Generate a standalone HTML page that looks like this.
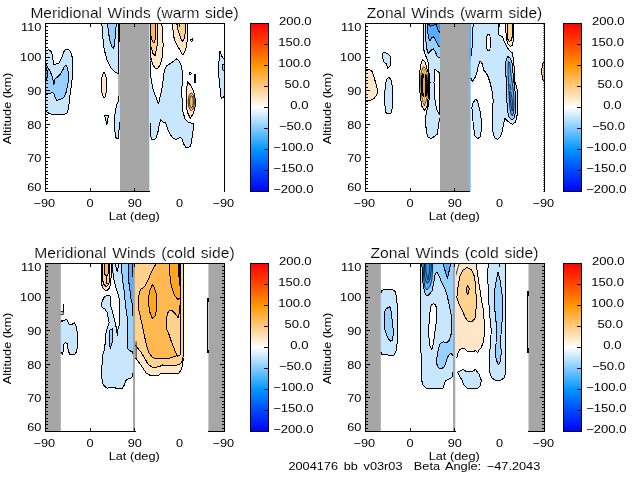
<!DOCTYPE html>
<html lang="en">
<head>
<meta charset="utf-8">
<title>Meridional and Zonal Winds</title>
<style>
html,body{margin:0;padding:0;background:#fff;}
body{width:640px;height:480px;overflow:hidden;position:relative;font-family:"Liberation Sans",sans-serif;}
svg{position:absolute;left:0;top:0;display:block;}
text{font-family:"Liberation Sans",sans-serif;fill:#000;}
.t{font-size:14.1px;stroke:#fff;stroke-width:0.15px;word-spacing:1.2px;}
.a{font-size:10.9px;}
</style>
</head>
<body>
<svg width="640" height="480" viewBox="0 0 640 480">
<defs>
<linearGradient id="cb" x1="0" y1="0" x2="0" y2="1">
<stop offset="0" stop-color="#ff0000"/>
<stop offset="0.125" stop-color="#ff4600"/>
<stop offset="0.25" stop-color="#ff9600"/>
<stop offset="0.375" stop-color="#ffcb80"/>
<stop offset="0.5" stop-color="#ffffff"/>
<stop offset="0.625" stop-color="#80cbff"/>
<stop offset="0.75" stop-color="#0096ff"/>
<stop offset="0.875" stop-color="#0046ff"/>
<stop offset="1" stop-color="#0000ff"/>
</linearGradient>
</defs>
<rect x="0" y="0" width="640" height="480" fill="#fff"/>
<clipPath id="c1"><rect x="46" y="24" width="178" height="167"/></clipPath>
<g clip-path="url(#c1)" stroke-linejoin="round" shape-rendering="crispEdges">
<path d="M44.00 51.25 L46.00 51.25 L48.10 49.75 L50.60 50.40 L51.90 53.75 L53.10 60.00 L54.00 64.40 L56.25 64.00 L58.75 63.50 L61.25 58.75 L63.10 53.75 L64.40 50.60 L66.25 49.40 L69.40 50.00 L71.25 53.10 L72.25 57.50 L72.75 62.50 L72.75 70.00 L72.25 77.50 L71.25 86.25 L70.00 95.00 L69.00 103.75 L68.10 110.00 L66.90 113.10 L63.75 114.75 L55.00 114.75 L49.40 113.75 L46.90 111.90 L46.00 110.00 L44.00 110.00Z" fill="#c8e7ff" stroke="#000" stroke-width="1"/>
<path d="M44.00 64.40 L46.00 64.40 L47.50 66.90 L49.40 70.00 L51.10 73.75 L52.40 77.50 L53.50 82.50 L54.00 84.40 L54.75 79.40 L57.50 76.90 L60.60 73.75 L62.80 70.00 L64.40 66.25 L65.90 65.00 L67.10 67.50 L68.10 71.25 L68.80 76.00 L68.60 80.00 L67.75 84.00 L66.90 88.50 L66.00 92.50 L64.40 96.90 L61.90 98.75 L58.75 99.75 L56.90 100.60 L55.25 98.10 L54.40 94.40 L52.50 92.50 L48.75 93.50 L46.00 93.75 L44.00 93.75Z" fill="#97d1ff" stroke="#000" stroke-width="1"/>
<path d="M44.00 68.50 L46.00 68.50 L47.40 71.00 L47.60 75.00 L47.10 78.00 L46.00 79.50 L44.00 79.50Z" fill="#55adff" stroke="#000" stroke-width="1"/>
<path d="M103.75 72.25 L105.60 75.00 L106.60 80.00 L106.90 86.00 L106.40 92.00 L105.20 96.50 L104.30 98.00 L102.80 96.00 L101.60 91.00 L101.25 85.00 L101.60 79.00 L102.50 75.00Z" fill="#ffe6c8" stroke="#000" stroke-width="1"/>
<path d="M104.40 115.00 L108.50 115.00 L107.80 119.00 L106.90 125.00 L105.50 119.00Z" fill="#c8e7ff" stroke="#000" stroke-width="1"/>
<path d="M101.90 20.00 L101.90 24.00 L102.50 32.50 L103.50 45.00 L105.00 52.50 L107.50 61.25 L110.60 67.50 L115.00 71.90 L118.10 73.75 L118.90 74.00 L118.90 20.00Z" fill="#c8e7ff" stroke="#000" stroke-width="1"/>
<path d="M107.50 20.00 L107.50 24.00 L108.50 32.50 L110.00 41.25 L111.90 46.90 L113.50 48.50 L114.40 45.00 L115.00 38.75 L115.60 32.50 L116.25 24.00 L116.25 20.00Z" fill="#97d1ff" stroke="#000" stroke-width="1"/>
<path d="M118.90 20.00 L118.90 92.50 L118.30 101.00 L116.40 106.00 L115.10 112.50 L114.70 121.00 L114.80 130.00 L115.60 137.00 L117.00 138.60 L118.30 138.40 L119.00 130.00 L119.60 122.50 L122.00 122.50 L122.00 20.00Z" fill="#c8e7ff"/>
<path d="M118.90 96.00 L118.30 101.00 L116.40 106.00 L115.10 112.50 L114.70 121.00 L114.80 130.00 L115.60 137.00 L117.00 138.60 L118.30 138.40 L119.00 130.00 L119.60 122.50" fill="none" stroke="#000" stroke-width="1"/>
<path d="M118.90 74.00 L118.90 96.00" fill="none" stroke="#000" stroke-width="0.5"/>
<path d="M118.90 24.00 L118.90 42.00" fill="none" stroke="#000" stroke-width="1.9"/>
<path d="M118.90 42.00 L118.90 74.00" fill="none" stroke="#000" stroke-width="1.1"/>
<path d="M119.50 25.00 L120.20 25.00 L120.20 35.00 L119.50 35.00Z" fill="#ffe6c8"/>
<path d="M147.00 61.00 L150.40 61.00 L150.60 70.00 L150.90 77.50 L152.50 87.50 L155.60 96.25 L158.50 103.75 L160.00 97.50 L161.90 88.75 L163.10 80.00 L163.75 73.75 L165.00 68.75 L166.90 65.60 L168.75 64.40 L173.75 61.25 L176.25 58.75 L178.75 60.60 L180.60 63.75 L181.90 68.75 L182.50 73.75 L182.50 80.00 L182.00 86.25 L181.90 95.00 L182.25 103.75 L183.10 112.50 L185.00 118.75 L187.50 121.90 L191.25 123.10 L193.50 124.00 L193.10 130.00 L192.25 136.25 L191.25 142.50 L190.60 146.90 L185.60 147.25 L183.50 143.75 L182.25 139.40 L180.60 137.25 L176.25 139.40 L173.10 138.10 L170.60 135.00 L168.10 130.00 L165.60 123.10 L163.10 121.90 L160.60 120.00 L159.40 123.75 L158.10 131.25 L156.25 137.50 L154.40 139.40 L151.50 139.40 L150.60 135.00 L150.40 123.75 L147.00 123.75Z" fill="#c8e7ff" stroke="#000" stroke-width="1"/>
<path d="M150.40 20.00 L150.40 55.00 L151.00 58.00 L152.50 63.75 L155.00 68.10 L158.10 68.10 L160.60 63.75 L162.50 56.25 L163.10 45.00 L162.50 32.50 L161.90 24.00 L161.90 20.00Z" fill="#ffe6c8" stroke="#000" stroke-width="1"/>
<path d="M150.40 20.00 L150.40 44.00 L151.50 48.75 L153.10 53.75 L155.00 55.60 L156.90 47.50 L157.75 36.25 L157.50 24.00 L157.50 20.00Z" fill="#ffd28e" stroke="#000" stroke-width="1"/>
<path d="M150.40 20.00 L150.40 34.00 L151.25 37.50 L152.50 41.25 L154.00 43.10 L155.00 40.00 L155.60 32.50 L155.25 24.00 L155.25 20.00Z" fill="#ffb950" stroke="#000" stroke-width="1"/>
<path d="M172.50 20.00 L172.50 24.00 L173.10 31.25 L174.40 40.00 L178.10 46.90 L181.25 52.50 L182.75 55.00 L184.40 52.50 L186.25 47.50 L187.25 40.00 L187.50 31.25 L187.10 24.00 L187.10 20.00Z" fill="#ffe6c8" stroke="#000" stroke-width="1"/>
<path d="M176.90 20.00 L176.90 24.00 L178.10 30.00 L180.00 36.25 L182.25 41.90 L184.00 38.75 L185.25 32.50 L185.60 24.00 L185.60 20.00Z" fill="#ffd28e" stroke="#000" stroke-width="1"/>
<path d="M187.25 81.50 L189.50 84.00 L191.25 86.25 L193.75 91.25 L195.25 98.75 L195.00 107.50 L193.10 113.75 L190.25 118.10 L187.50 112.50 L186.25 105.00 L186.25 96.25 L186.90 88.75Z" fill="#ffe6c8" stroke="#000" stroke-width="1"/>
<ellipse cx="191.3" cy="101.8" rx="3.1" ry="8.7" fill="#ffd28e" stroke="#000" stroke-width="0.8"/>
<ellipse cx="191.4" cy="101.8" rx="1.9" ry="6.2" fill="#ffb950" stroke="#000" stroke-width="0.8"/>
<path d="M227.00 60.00 L223.75 58.75 L221.90 56.25 L220.00 51.25 L219.40 57.50 L218.75 63.75 L218.10 70.00 L218.50 76.25 L219.40 80.00 L219.75 85.00 L220.60 93.75 L221.25 98.10 L223.75 96.90 L227.00 96.00Z" fill="#c8e7ff" stroke="#000" stroke-width="1"/>
<path d="M227.00 64.40 L223.00 64.40 L222.50 67.00 L223.00 70.00 L227.00 70.00Z" fill="#97d1ff" stroke="#000" stroke-width="1"/>
<ellipse cx="191.3" cy="40.2" rx="1.2" ry="1.0" fill="none" stroke="#000" stroke-width="1"/>
<path d="M192.60 37.80 L192.60 41.20" fill="none" stroke="#000" stroke-width="0.9"/>
<ellipse cx="190.3" cy="73.5" rx="0.8" ry="0.8" fill="none" stroke="#000" stroke-width="1"/>
<path d="M195.00 73.50 L195.00 82.50" fill="none" stroke="#000" stroke-width="2"/>
<rect x="120" y="20" width="29" height="175" fill="#a6a6a6" shape-rendering="geometricPrecision"/>
<rect x="149" y="20" width="1.0" height="175" fill="#c8e7ff" shape-rendering="geometricPrecision"/>
<path d="M150.50 24.00 L150.50 60.00" fill="none" stroke="#000" stroke-width="0.9"/>
</g>
<g shape-rendering="crispEdges" stroke="#000" stroke-width="1" fill="none">
<path d="M45 23.5 H225 M45.5 23 V192 M224.5 23 V192 M45 191.5 H149.5 M45.5 23.5 h4.5 M45.5 26.5 h2.5 M45.5 30.5 h2.5 M45.5 33.5 h2.5 M45.5 36.5 h2.5 M45.5 40.5 h2.5 M45.5 43.5 h2.5 M45.5 47.5 h2.5 M45.5 50.5 h2.5 M45.5 53.5 h2.5 M45.5 57.5 h4.5 M45.5 60.5 h2.5 M45.5 63.5 h2.5 M45.5 67.5 h2.5 M45.5 70.5 h2.5 M45.5 73.5 h2.5 M45.5 77.5 h2.5 M45.5 80.5 h2.5 M45.5 83.5 h2.5 M45.5 87.5 h2.5 M45.5 90.5 h4.5 M45.5 94.5 h2.5 M45.5 97.5 h2.5 M45.5 100.5 h2.5 M45.5 104.5 h2.5 M45.5 107.5 h2.5 M45.5 110.5 h2.5 M45.5 114.5 h2.5 M45.5 117.5 h2.5 M45.5 120.5 h2.5 M45.5 124.5 h4.5 M45.5 127.5 h2.5 M45.5 131.5 h2.5 M45.5 134.5 h2.5 M45.5 137.5 h2.5 M45.5 141.5 h2.5 M45.5 144.5 h2.5 M45.5 147.5 h2.5 M45.5 151.5 h2.5 M45.5 154.5 h2.5 M45.5 157.5 h4.5 M45.5 161.5 h2.5 M45.5 164.5 h2.5 M45.5 167.5 h2.5 M45.5 171.5 h2.5 M45.5 174.5 h2.5 M45.5 178.5 h2.5 M45.5 181.5 h2.5 M45.5 184.5 h2.5 M45.5 188.5 h2.5 M45.5 191.5 h4.5 M90.5 23.5 v3.5 M90.5 191.5 v-3.5 M134.5 23.5 v3.5 M134.5 191.5 v-3.5 M179.5 23.5 v3.5"/>
</g>
<rect x="250" y="23" width="19" height="169" fill="url(#cb)"/>
<g shape-rendering="crispEdges" stroke="#000" stroke-width="1" fill="none">
<rect x="250.5" y="23.5" width="18" height="168"/>
<path d="M268.5 44.5 h-5 M268.5 65.5 h-5 M268.5 86.5 h-5 M268.5 107.5 h-5 M268.5 128.5 h-5 M268.5 149.5 h-5 M268.5 170.5 h-5"/>
</g>
<clipPath id="c2"><rect x="366" y="24" width="178" height="167"/></clipPath>
<g clip-path="url(#c2)" stroke-linejoin="round" shape-rendering="crispEdges">
<path d="M364.00 70.00 L366.00 70.00 L368.75 69.40 L371.90 71.25 L373.75 76.25 L375.60 82.50 L377.25 88.75 L377.40 92.00 L376.90 95.00 L373.75 98.75 L370.00 100.60 L366.00 101.25 L364.00 101.25Z" fill="#ffe6c8" stroke="#000" stroke-width="1"/>
<path d="M366.00 79.00 L367.20 82.00 L367.20 94.00 L366.00 97.00Z" fill="#ffd28e"/>
<path d="M383.10 52.50 L386.90 53.10 L390.00 55.60 L390.60 61.25 L390.00 66.25 L387.75 68.10 L386.25 63.75 L383.75 61.90 L382.50 57.50Z" fill="#c8e7ff" stroke="#000" stroke-width="1"/>
<path d="M388.75 77.25 L391.25 80.00 L392.25 86.25 L392.75 93.75 L392.90 100.00 L392.25 107.50 L391.25 113.10 L388.10 114.10 L385.60 112.50 L384.75 102.50 L384.60 93.75 L385.40 86.25 L386.25 80.00Z" fill="#c8e7ff" stroke="#000" stroke-width="1"/>
<path d="M422.50 59.40 L425.00 61.90 L426.25 66.25 L428.10 72.50 L428.75 82.50 L428.75 93.75 L428.10 98.75 L426.90 106.25 L424.40 110.60 L421.90 106.25 L420.60 98.75 L419.75 90.00 L419.40 82.50 L419.75 72.50 L420.60 65.00Z" fill="#ffe6c8" stroke="#000" stroke-width="1"/>
<path d="M423.70 66.50 L425.60 69.00 L427.20 74.00 L427.70 83.00 L427.50 94.00 L426.50 100.00 L424.40 106.00 L422.50 100.00 L421.30 94.00 L420.60 83.00 L421.00 74.00 L422.20 69.00Z" fill="#ffd28e" stroke="#000" stroke-width="0.7"/>
<path d="M423.90 71.50 L426.60 75.00 L427.90 82.00 L428.00 90.00 L427.30 94.50 L425.60 97.00 L424.00 97.50 L422.30 96.00 L421.00 92.00 L420.60 84.00 L420.90 77.00 L421.90 73.50Z" fill="#000000"/>
<path d="M423.90 68.00 L424.30 76.00 L423.80 85.00 L424.30 94.00 L424.20 103.00" fill="none" stroke="#ffa51e" stroke-width="1.4"/>
<path d="M423.10 20.00 L423.10 38.75 L423.50 48.75 L425.00 53.75 L426.90 58.75 L428.10 62.50 L428.75 70.00 L429.40 76.25 L430.00 82.50 L429.75 95.00 L428.10 106.25 L426.25 112.50 L425.60 120.00 L425.80 126.00 L426.90 133.75 L428.10 137.50 L431.25 138.50 L434.40 136.25 L437.25 134.40 L438.10 128.75 L439.00 122.50 L439.75 118.75 L443.00 118.00 L443.00 20.00Z" fill="#c8e7ff" stroke="#000" stroke-width="1"/>
<path d="M435.00 69.40 L437.50 71.25 L439.70 73.10 L439.70 114.50 L439.00 113.75 L437.50 111.25 L435.60 105.00 L434.40 95.00 L434.00 82.50 L434.40 75.00Z" fill="#ffffff" stroke="#000" stroke-width="1"/>
<path d="M425.60 20.00 L425.60 38.00 L426.50 47.50 L428.10 53.75 L430.60 50.60 L433.10 48.75 L435.00 51.25 L436.90 55.60 L438.75 57.50 L443.00 57.50 L443.00 20.00Z" fill="#97d1ff" stroke="#000" stroke-width="1"/>
<path d="M426.90 20.00 L427.75 32.50 L429.00 38.75 L430.00 40.60 L431.90 37.50 L433.75 36.90 L435.60 40.00 L437.50 44.40 L439.40 46.90 L443.00 46.90 L443.00 20.00Z" fill="#55adff" stroke="#000" stroke-width="1"/>
<path d="M428.75 20.00 L428.75 24.00 L430.00 26.25 L433.75 25.00 L435.60 24.00 L435.60 20.00Z" fill="#2b95ff" stroke="#000" stroke-width="1"/>
<path d="M436.25 20.00 L436.25 24.00 L437.50 28.75 L438.75 31.90 L443.00 32.50 L443.00 20.00Z" fill="#2b95ff" stroke="#000" stroke-width="1"/>
<path d="M468.00 20.00 L498.75 20.00 L498.75 24.00 L499.00 35.00 L502.50 36.90 L504.40 41.90 L506.90 46.90 L510.00 51.25 L512.50 53.10 L513.10 57.50 L513.75 62.50 L514.40 70.00 L515.00 82.50 L516.90 87.50 L517.50 95.00 L517.50 107.50 L516.90 117.50 L515.00 122.50 L512.50 124.40 L507.50 121.25 L505.00 118.10 L504.40 120.00 L503.50 125.00 L502.25 131.25 L500.60 136.25 L497.75 139.40 L495.00 138.10 L493.10 133.75 L492.50 125.00 L492.75 112.50 L493.10 100.00 L491.90 90.00 L490.00 82.50 L487.50 75.00 L483.75 70.00 L481.90 63.10 L480.00 61.25 L478.10 66.25 L476.90 72.50 L475.00 77.50 L473.10 80.50 L472.00 81.25 L471.00 78.00 L468.00 78.00Z" fill="#c8e7ff" stroke="#000" stroke-width="1"/>
<ellipse cx="488.4" cy="42.5" rx="2.2" ry="8.1" fill="#ffffff" stroke="#000" stroke-width="1"/>
<path d="M473.10 24.00 L472.50 45.00 L471.25 53.75 L470.60 60.00" fill="none" stroke="#000" stroke-width="1"/>
<path d="M505.60 20.00 L505.60 24.00 L506.00 32.50 L506.50 40.00 L508.10 44.40 L510.60 46.25 L512.50 45.00 L513.50 38.75 L513.75 24.00 L513.75 20.00Z" fill="#ffe6c8" stroke="#000" stroke-width="1"/>
<path d="M507.25 20.00 L507.50 38.75 L509.40 41.25 L511.50 40.00 L512.25 36.25 L512.25 20.00Z" fill="#ffd28e" stroke="#000" stroke-width="1"/>
<path d="M507.50 56.25 L510.00 58.10 L512.00 62.50 L512.80 70.00 L513.40 77.50 L514.40 86.25 L515.20 92.50 L515.60 101.25 L515.40 112.00 L514.40 117.50 L511.90 120.00 L508.40 116.25 L507.20 107.50 L506.70 95.00 L506.20 82.50 L505.80 70.00 L505.60 62.50Z" fill="#97d1ff" stroke="#000" stroke-width="1"/>
<path d="M508.30 61.50 L509.80 62.50 L510.40 70.00 L511.40 77.50 L512.80 86.25 L513.80 95.00 L514.10 105.00 L513.50 113.00 L512.30 116.00 L510.80 113.50 L509.80 107.50 L509.00 95.00 L508.50 82.50 L507.90 70.00Z" fill="#55adff" stroke="#000" stroke-width="0.8"/>
<path d="M509.60 91.00 L510.80 92.50 L512.00 98.00 L512.80 104.00 L512.90 110.00 L512.00 111.00 L511.00 105.00 L510.00 98.00Z" fill="#2b95ff" stroke="#000" stroke-width="0.7"/>
<path d="M509.60 84.00 L511.00 90.00" fill="none" stroke="#000" stroke-width="0.8"/>
<path d="M475.60 99.40 L477.50 100.60 L478.75 106.25 L480.60 113.75 L481.50 122.50 L481.25 131.25 L480.00 136.90 L477.50 138.75 L475.00 136.25 L473.75 128.75 L472.50 116.25 L471.90 107.50 L473.10 102.50Z" fill="#c8e7ff" stroke="#000" stroke-width="1"/>
<path d="M547.00 62.00 L543.40 62.00 L542.20 65.00 L541.80 72.00 L542.20 78.00 L543.40 80.50 L547.00 80.50Z" fill="#ffd28e" stroke="#000" stroke-width="1"/>
<rect x="440" y="20" width="29.6" height="175" fill="#a6a6a6" shape-rendering="geometricPrecision"/>
<rect x="469.4" y="20" width="1.2" height="175" fill="#55adff" shape-rendering="geometricPrecision"/>
<rect x="469.4" y="20" width="1.6" height="40" fill="#55adff" shape-rendering="geometricPrecision"/>
</g>
<g shape-rendering="crispEdges" stroke="#000" stroke-width="1" fill="none">
<path d="M365 23.5 H545 M365.5 23 V192 M544.5 23 V192 M365 191.5 H469.5 M365.5 23.5 h4.5 M365.5 26.5 h2.5 M365.5 30.5 h2.5 M365.5 33.5 h2.5 M365.5 36.5 h2.5 M365.5 40.5 h2.5 M365.5 43.5 h2.5 M365.5 47.5 h2.5 M365.5 50.5 h2.5 M365.5 53.5 h2.5 M365.5 57.5 h4.5 M365.5 60.5 h2.5 M365.5 63.5 h2.5 M365.5 67.5 h2.5 M365.5 70.5 h2.5 M365.5 73.5 h2.5 M365.5 77.5 h2.5 M365.5 80.5 h2.5 M365.5 83.5 h2.5 M365.5 87.5 h2.5 M365.5 90.5 h4.5 M365.5 94.5 h2.5 M365.5 97.5 h2.5 M365.5 100.5 h2.5 M365.5 104.5 h2.5 M365.5 107.5 h2.5 M365.5 110.5 h2.5 M365.5 114.5 h2.5 M365.5 117.5 h2.5 M365.5 120.5 h2.5 M365.5 124.5 h4.5 M365.5 127.5 h2.5 M365.5 131.5 h2.5 M365.5 134.5 h2.5 M365.5 137.5 h2.5 M365.5 141.5 h2.5 M365.5 144.5 h2.5 M365.5 147.5 h2.5 M365.5 151.5 h2.5 M365.5 154.5 h2.5 M365.5 157.5 h4.5 M365.5 161.5 h2.5 M365.5 164.5 h2.5 M365.5 167.5 h2.5 M365.5 171.5 h2.5 M365.5 174.5 h2.5 M365.5 178.5 h2.5 M365.5 181.5 h2.5 M365.5 184.5 h2.5 M365.5 188.5 h2.5 M365.5 191.5 h4.5 M410.5 23.5 v3.5 M410.5 191.5 v-3.5 M454.5 23.5 v3.5 M454.5 191.5 v-3.5 M499.5 23.5 v3.5"/>
<path d="M543.5 23.5 v168" stroke="#777" stroke-dasharray="1 1.2"/>
</g>
<rect x="563" y="23" width="19" height="169" fill="url(#cb)"/>
<g shape-rendering="crispEdges" stroke="#000" stroke-width="1" fill="none">
<rect x="563.5" y="23.5" width="18" height="168"/>
<path d="M581.5 44.5 h-5 M581.5 65.5 h-5 M581.5 86.5 h-5 M581.5 107.5 h-5 M581.5 128.5 h-5 M581.5 149.5 h-5 M581.5 170.5 h-5"/>
</g>
<clipPath id="c3"><rect x="46" y="264" width="178" height="167"/></clipPath>
<g clip-path="url(#c3)" stroke-linejoin="round" shape-rendering="crispEdges">
<path d="M101.40 260.00 L101.40 283.00 L102.50 287.50 L105.50 290.50 L108.50 289.75 L110.40 285.25 L111.10 277.00 L111.90 264.25 L111.90 260.00Z" fill="#ffe6c8" stroke="#000" stroke-width="1"/>
<path d="M102.90 260.00 L102.90 280.75 L104.00 284.50 L106.25 286.75 L108.90 284.50 L109.60 277.00 L110.00 260.00Z" fill="#ffd28e" stroke="#000" stroke-width="1"/>
<path d="M104.75 260.00 L104.75 274.00 L106.25 276.25 L108.10 274.00 L108.50 260.00Z" fill="#ffb950" stroke="#000" stroke-width="1"/>
<path d="M101.70 264.00 L101.70 282.00" fill="none" stroke="#000" stroke-width="1.6"/>
<path d="M105.80 275.50 L107.00 279.00 L106.30 282.00 L107.30 284.00" fill="none" stroke="#000" stroke-width="1.1"/>
<path d="M58.00 321.25 L61.00 321.25 L63.75 320.60 L66.90 319.40 L68.75 323.75 L71.25 325.00 L74.40 322.50 L76.25 326.25 L77.50 333.75 L77.75 342.50 L76.90 350.00 L75.60 353.75 L72.50 355.00 L69.75 354.40 L68.10 350.00 L67.25 343.75 L65.60 342.50 L64.00 343.75 L63.50 350.00 L62.50 354.40 L61.25 352.50 L58.00 352.50Z" fill="#c8e7ff" stroke="#000" stroke-width="1"/>
<path d="M63.40 304.00 L63.40 311.50" fill="none" stroke="#000" stroke-width="1.1"/>
<path d="M60.00 311.60 L63.40 311.60 L63.20 314.60 L60.00 314.80Z" fill="#ffe6c8" stroke="#000" stroke-width="0.9"/>
<path d="M61.20 320.20 L62.60 321.80" fill="none" stroke="#000" stroke-width="1.4"/>
<path d="M112.60 260.00 L112.60 264.25 L113.00 273.25 L114.10 280.75 L115.60 286.75 L117.50 292.00 L119.00 298.00 L119.60 306.25 L119.90 313.75 L119.75 319.75 L119.40 324.25 L118.60 327.25 L117.50 331.00 L117.35 335.50 L116.75 330.25 L116.00 326.50 L114.65 320.50 L113.40 315.25 L111.90 310.00 L110.60 306.25 L110.40 296.10 L109.60 295.75 L104.75 296.10 L103.25 298.75 L101.40 304.00 L102.10 307.75 L105.10 309.25 L107.00 312.25 L108.10 317.50 L109.25 322.75 L108.10 325.75 L106.60 330.00 L105.50 336.25 L105.10 343.75 L104.40 349.75 L102.90 354.25 L102.25 361.00 L101.50 372.50 L102.25 382.50 L104.40 386.25 L106.90 388.10 L111.25 387.50 L116.25 388.10 L122.50 388.10 L124.40 385.00 L125.60 380.60 L128.75 378.75 L131.90 377.50 L133.10 372.50 L133.60 357.50 L134.50 357.50 L134.50 260.00Z" fill="#c8e7ff" stroke="#000" stroke-width="1"/>
<path d="M121.50 260.00 L121.50 264.00 L122.20 277.00 L123.20 284.50 L124.30 292.00 L124.80 298.00 L125.30 302.50 L126.10 310.00 L127.25 317.50 L127.60 325.00 L127.60 340.00 L127.60 348.25 L129.50 350.50 L132.50 352.00 L133.60 356.50 L134.50 356.50 L134.50 260.00Z" fill="#97d1ff" stroke="#000" stroke-width="1"/>
<path d="M128.00 260.00 L128.00 264.00 L128.40 277.00 L129.10 284.50 L130.10 292.00 L130.80 298.00 L132.10 303.25 L132.90 313.75 L133.60 325.00 L134.50 325.00 L134.50 260.00Z" fill="#55adff" stroke="#000" stroke-width="1"/>
<path d="M115.25 264.00 L117.10 271.75 L119.00 264.00" fill="none" stroke="#000" stroke-width="1"/>
<path d="M132.30 264.00 L133.00 277.00 L134.00 264.00" fill="none" stroke="#000" stroke-width="1"/>
<path d="M109.60 330.25 L112.25 328.75 L112.60 336.25 L111.90 343.75 L110.40 348.25 L109.60 346.00Z" fill="#97d1ff" stroke="#000" stroke-width="1"/>
<path d="M134.50 260.00 L183.75 260.00 L183.75 345.00 L183.50 357.50 L182.50 365.00 L181.25 370.00 L178.75 373.10 L171.25 373.50 L161.25 373.10 L158.75 375.00 L149.40 375.00 L146.25 373.10 L143.75 369.40 L140.00 363.75 L136.25 358.75 L134.50 358.00Z" fill="#ffe6c8" stroke="#000" stroke-width="1"/>
<path d="M134.50 260.00 L183.75 260.00 L183.75 345.00 L183.30 356.00 L181.80 362.00 L180.00 364.20 L177.50 365.00 L171.25 365.60 L162.50 365.00 L158.75 366.90 L152.50 367.25 L148.10 364.40 L145.00 358.75 L141.25 352.50 L136.25 346.25 L134.50 345.00Z" fill="#ffd28e" stroke="#000" stroke-width="1"/>
<path d="M155.60 260.00 L155.60 264.40 L153.10 268.75 L150.60 273.75 L148.10 280.00 L145.60 285.00 L143.10 288.10 L141.25 288.75 L140.00 291.25 L138.75 296.25 L138.10 305.00 L138.75 310.00 L140.00 315.00 L141.90 323.75 L143.75 332.50 L145.60 341.25 L147.50 348.75 L148.75 352.50 L151.90 356.90 L155.00 358.50 L162.50 358.50 L170.00 358.10 L175.00 356.25 L178.10 355.60 L180.30 352.00 L180.30 260.00Z" fill="#ffb950" stroke="#000" stroke-width="1"/>
<path d="M170.00 310.00 L173.10 311.25 L176.25 315.00 L178.10 318.10 L179.40 312.50 L180.00 305.00 L180.00 355.00 L178.10 355.60 L177.50 356.25 L176.25 353.75 L173.75 347.50 L171.25 341.25 L168.75 333.75 L166.50 328.75 L166.50 320.00 L167.50 313.10Z" fill="#ffd28e" stroke="#000" stroke-width="1"/>
<path d="M169.40 260.00 L169.40 264.40 L169.75 273.75 L170.60 282.50 L172.50 290.00 L175.00 296.25 L178.10 299.40 L180.30 297.50 L180.30 260.00Z" fill="#ffa51e" stroke="#000" stroke-width="1"/>
<path d="M152.50 284.40 L154.40 287.50 L156.25 293.75 L156.90 302.50 L156.50 310.00 L155.00 316.25 L152.50 318.75 L150.00 312.50 L148.75 305.00 L148.75 296.25 L150.00 290.00Z" fill="#ffa51e" stroke="#000" stroke-width="1"/>
<path d="M179.30 264.00 L179.40 286.00" fill="none" stroke="#000" stroke-width="1.7"/>
<path d="M136.10 341.50 L136.10 358.50" fill="none" stroke="#000" stroke-width="0.9"/>
<rect x="44" y="260" width="16.8" height="175" fill="#a6a6a6" shape-rendering="geometricPrecision"/>
<rect x="208.4" y="260" width="18" height="175" fill="#a6a6a6" shape-rendering="geometricPrecision"/>
<rect x="133" y="260" width="2" height="175" fill="#a6a6a6" shape-rendering="geometricPrecision"/>
<path d="M208.10 298.00 L207.60 304.00 L207.50 346.00 L208.10 353.00" fill="none" stroke="#000" stroke-width="1.4"/>
</g>
<g shape-rendering="crispEdges" stroke="#000" stroke-width="1" fill="none">
<path d="M45 263.5 H225 M45.5 263 V432 M224.5 263 V432 M45 431.5 H135.5 M208 431.5 H225 M45.5 263.5 h4.5 M224.5 263.5 h-4.5 M45.5 266.5 h2.5 M224.5 266.5 h-2.5 M45.5 270.5 h2.5 M224.5 270.5 h-2.5 M45.5 273.5 h2.5 M224.5 273.5 h-2.5 M45.5 276.5 h2.5 M224.5 276.5 h-2.5 M45.5 280.5 h2.5 M224.5 280.5 h-2.5 M45.5 283.5 h2.5 M224.5 283.5 h-2.5 M45.5 287.5 h2.5 M224.5 287.5 h-2.5 M45.5 290.5 h2.5 M224.5 290.5 h-2.5 M45.5 293.5 h2.5 M224.5 293.5 h-2.5 M45.5 297.5 h4.5 M224.5 297.5 h-4.5 M45.5 300.5 h2.5 M224.5 300.5 h-2.5 M45.5 303.5 h2.5 M224.5 303.5 h-2.5 M45.5 307.5 h2.5 M224.5 307.5 h-2.5 M45.5 310.5 h2.5 M224.5 310.5 h-2.5 M45.5 313.5 h2.5 M224.5 313.5 h-2.5 M45.5 317.5 h2.5 M224.5 317.5 h-2.5 M45.5 320.5 h2.5 M224.5 320.5 h-2.5 M45.5 323.5 h2.5 M224.5 323.5 h-2.5 M45.5 327.5 h2.5 M224.5 327.5 h-2.5 M45.5 330.5 h4.5 M224.5 330.5 h-4.5 M45.5 334.5 h2.5 M224.5 334.5 h-2.5 M45.5 337.5 h2.5 M224.5 337.5 h-2.5 M45.5 340.5 h2.5 M224.5 340.5 h-2.5 M45.5 344.5 h2.5 M224.5 344.5 h-2.5 M45.5 347.5 h2.5 M224.5 347.5 h-2.5 M45.5 350.5 h2.5 M224.5 350.5 h-2.5 M45.5 354.5 h2.5 M224.5 354.5 h-2.5 M45.5 357.5 h2.5 M224.5 357.5 h-2.5 M45.5 360.5 h2.5 M224.5 360.5 h-2.5 M45.5 364.5 h4.5 M224.5 364.5 h-4.5 M45.5 367.5 h2.5 M224.5 367.5 h-2.5 M45.5 371.5 h2.5 M224.5 371.5 h-2.5 M45.5 374.5 h2.5 M224.5 374.5 h-2.5 M45.5 377.5 h2.5 M224.5 377.5 h-2.5 M45.5 381.5 h2.5 M224.5 381.5 h-2.5 M45.5 384.5 h2.5 M224.5 384.5 h-2.5 M45.5 387.5 h2.5 M224.5 387.5 h-2.5 M45.5 391.5 h2.5 M224.5 391.5 h-2.5 M45.5 394.5 h2.5 M224.5 394.5 h-2.5 M45.5 397.5 h4.5 M224.5 397.5 h-4.5 M45.5 401.5 h2.5 M224.5 401.5 h-2.5 M45.5 404.5 h2.5 M224.5 404.5 h-2.5 M45.5 407.5 h2.5 M224.5 407.5 h-2.5 M45.5 411.5 h2.5 M224.5 411.5 h-2.5 M45.5 414.5 h2.5 M224.5 414.5 h-2.5 M45.5 418.5 h2.5 M224.5 418.5 h-2.5 M45.5 421.5 h2.5 M224.5 421.5 h-2.5 M45.5 424.5 h2.5 M224.5 424.5 h-2.5 M45.5 428.5 h2.5 M224.5 428.5 h-2.5 M45.5 431.5 h4.5 M224.5 431.5 h-4.5 M90.5 263.5 v3.5 M90.5 431.5 v-3.5 M134.5 263.5 v3.5 M134.5 431.5 v-3.5 M179.5 263.5 v3.5"/>
</g>
<rect x="250" y="263" width="19" height="169" fill="url(#cb)"/>
<g shape-rendering="crispEdges" stroke="#000" stroke-width="1" fill="none">
<rect x="250.5" y="263.5" width="18" height="168"/>
<path d="M268.5 284.5 h-5 M268.5 305.5 h-5 M268.5 326.5 h-5 M268.5 347.5 h-5 M268.5 368.5 h-5 M268.5 389.5 h-5 M268.5 410.5 h-5"/>
</g>
<clipPath id="c4"><rect x="366" y="264" width="178" height="167"/></clipPath>
<g clip-path="url(#c4)" stroke-linejoin="round" shape-rendering="crispEdges">
<path d="M378.00 292.50 L381.25 292.50 L381.90 290.60 L384.40 289.40 L392.50 289.40 L395.00 291.25 L396.25 296.25 L397.25 305.00 L397.75 315.00 L397.75 330.00 L397.25 342.50 L396.25 350.00 L394.40 355.00 L387.50 355.00 L384.40 354.40 L381.90 355.00 L381.00 352.50 L378.00 352.50Z" fill="#c8e7ff" stroke="#000" stroke-width="1"/>
<path d="M389.40 306.90 L386.25 308.75 L384.00 312.50 L384.40 321.25 L385.00 330.00 L387.50 337.50 L390.60 341.25 L392.50 340.00 L393.50 332.50 L392.50 323.75 L391.50 315.00 L390.60 308.10Z" fill="#97d1ff" stroke="#000" stroke-width="1"/>
<path d="M420.60 260.00 L420.60 345.00 L421.25 357.50 L421.90 381.25 L423.10 385.00 L426.25 388.10 L443.10 388.10 L444.40 383.75 L445.60 380.60 L450.00 378.75 L452.50 376.25 L453.50 367.50 L453.60 357.50 L454.50 357.50 L454.50 260.00Z" fill="#c8e7ff" stroke="#000" stroke-width="1"/>
<path d="M421.90 260.00 L421.90 264.40 L422.50 280.00 L424.40 291.25 L426.25 295.60 L428.75 295.00 L431.90 291.25 L433.75 282.50 L435.00 275.00 L436.90 271.90 L438.75 275.00 L441.25 281.25 L444.40 287.50 L446.90 295.00 L448.75 302.50 L450.30 310.00 L451.25 315.00 L451.90 323.75 L451.25 333.75 L449.40 340.00 L446.90 342.50 L443.10 341.90 L440.00 343.75 L438.75 347.50 L437.25 355.00 L436.25 362.50 L438.10 367.50 L441.25 368.75 L444.40 366.90 L446.25 361.25 L448.10 356.25 L450.60 353.10 L452.50 355.00 L453.60 357.50 L454.50 357.50 L454.50 260.00Z" fill="#97d1ff" stroke="#000" stroke-width="1"/>
<path d="M423.10 260.00 L423.10 264.40 L423.75 280.00 L425.00 287.50 L426.90 290.00 L430.00 286.25 L431.90 280.00 L432.50 270.00 L432.75 260.00Z" fill="#55adff" stroke="#000" stroke-width="0.8"/>
<path d="M424.40 260.00 L424.75 277.50 L426.25 282.50 L428.00 283.00 L430.00 279.00 L431.20 271.00 L431.50 260.00Z" fill="#2b95ff" stroke="#000" stroke-width="0.8"/>
<path d="M425.60 260.00 L426.00 272.00 L427.80 280.00 L429.50 272.00 L430.00 260.00Z" fill="#2b95ff" stroke="#000" stroke-width="0.7"/>
<path d="M443.10 260.00 L443.10 264.00 L447.50 278.75 L450.60 264.00 L450.60 260.00Z" fill="#55adff" stroke="#000" stroke-width="1"/>
<path d="M432.50 304.40 L431.25 305.00 L430.00 312.50 L429.00 323.75 L428.75 336.25 L430.00 346.25 L431.90 349.40 L433.10 345.00 L434.40 336.25 L436.00 323.75 L436.90 312.50 L436.50 307.50 L435.00 304.50 L433.50 303.75Z" fill="#ffffff" stroke="#000" stroke-width="1"/>
<path d="M454.50 260.00 L476.25 260.00 L476.25 264.40 L477.50 273.75 L479.40 286.25 L481.25 298.75 L483.10 308.75 L483.75 315.00 L484.40 325.00 L484.40 335.00 L483.10 342.50 L481.25 347.50 L478.75 350.60 L477.50 352.50 L475.60 350.60 L471.90 351.90 L468.10 351.90 L465.60 349.40 L463.10 348.10 L460.00 349.40 L458.10 352.50 L456.90 357.50 L454.50 358.00Z" fill="#ffe6c8" stroke="#000" stroke-width="1"/>
<path d="M466.90 267.50 L471.25 269.40 L474.40 276.25 L475.60 286.25 L476.25 298.75 L476.00 310.00 L475.00 318.10 L472.50 321.25 L468.10 321.25 L465.60 318.10 L462.50 311.25 L459.40 305.00 L456.90 297.50 L458.10 286.25 L460.00 276.25 L462.50 270.60Z" fill="#ffd28e" stroke="#000" stroke-width="1"/>
<path d="M467.50 285.60 L469.40 288.75 L467.60 295.00 L466.25 290.00Z" fill="#ffa51e" stroke="#000" stroke-width="1"/>
<path d="M455.40 264.00 L459.00 264.00 L456.60 272.00Z" fill="#ffffff"/>
<path d="M459.00 264.00 L456.60 272.00 L455.60 276.00" fill="none" stroke="#000" stroke-width="0.8"/>
<path d="M488.75 260.00 L488.75 264.40 L487.50 271.25 L488.10 286.25 L488.75 298.75 L489.00 305.00 L490.00 317.50 L491.25 330.00 L490.60 342.50 L489.40 355.00 L489.40 360.00 L489.75 372.50 L491.90 378.10 L496.25 380.60 L501.25 380.00 L504.40 377.50 L505.60 372.50 L505.70 345.00 L505.50 260.00Z" fill="#c8e7ff" stroke="#000" stroke-width="1"/>
<path d="M498.10 271.90 L500.00 280.00 L501.90 292.50 L502.75 305.00 L502.50 317.50 L501.25 330.00 L500.60 342.50 L501.25 352.50 L500.60 360.60 L498.50 364.75 L496.90 361.25 L495.30 355.00 L495.60 345.00 L496.50 342.50 L496.90 330.00 L495.60 317.50 L494.40 305.00 L494.40 292.50 L496.25 280.00Z" fill="#97d1ff" stroke="#000" stroke-width="1"/>
<path d="M457.50 372.50 L463.10 369.40 L466.90 371.90 L471.25 371.90 L475.60 369.40 L478.75 373.75 L481.25 380.00 L480.60 385.00 L478.10 388.10 L466.90 388.10 L463.75 385.00 L461.90 380.00 L459.40 375.60Z" fill="#c8e7ff" stroke="#000" stroke-width="1"/>
<rect x="364" y="260" width="16.8" height="175" fill="#a6a6a6" shape-rendering="geometricPrecision"/>
<rect x="528.5" y="260" width="18" height="175" fill="#a6a6a6" shape-rendering="geometricPrecision"/>
<rect x="453" y="260" width="2" height="175" fill="#a6a6a6" shape-rendering="geometricPrecision"/>
<rect x="455" y="260" width="1" height="175" fill="#d6efff" shape-rendering="geometricPrecision"/>
<path d="M528.20 291.00 L527.70 297.00 L527.60 346.00 L528.20 353.00" fill="none" stroke="#000" stroke-width="1.5"/>
</g>
<g shape-rendering="crispEdges" stroke="#000" stroke-width="1" fill="none">
<path d="M365 263.5 H545 M365.5 263 V432 M544.5 263 V432 M365 431.5 H455.5 M528 431.5 H545 M365.5 263.5 h4.5 M544.5 263.5 h-4.5 M365.5 266.5 h2.5 M544.5 266.5 h-2.5 M365.5 270.5 h2.5 M544.5 270.5 h-2.5 M365.5 273.5 h2.5 M544.5 273.5 h-2.5 M365.5 276.5 h2.5 M544.5 276.5 h-2.5 M365.5 280.5 h2.5 M544.5 280.5 h-2.5 M365.5 283.5 h2.5 M544.5 283.5 h-2.5 M365.5 287.5 h2.5 M544.5 287.5 h-2.5 M365.5 290.5 h2.5 M544.5 290.5 h-2.5 M365.5 293.5 h2.5 M544.5 293.5 h-2.5 M365.5 297.5 h4.5 M544.5 297.5 h-4.5 M365.5 300.5 h2.5 M544.5 300.5 h-2.5 M365.5 303.5 h2.5 M544.5 303.5 h-2.5 M365.5 307.5 h2.5 M544.5 307.5 h-2.5 M365.5 310.5 h2.5 M544.5 310.5 h-2.5 M365.5 313.5 h2.5 M544.5 313.5 h-2.5 M365.5 317.5 h2.5 M544.5 317.5 h-2.5 M365.5 320.5 h2.5 M544.5 320.5 h-2.5 M365.5 323.5 h2.5 M544.5 323.5 h-2.5 M365.5 327.5 h2.5 M544.5 327.5 h-2.5 M365.5 330.5 h4.5 M544.5 330.5 h-4.5 M365.5 334.5 h2.5 M544.5 334.5 h-2.5 M365.5 337.5 h2.5 M544.5 337.5 h-2.5 M365.5 340.5 h2.5 M544.5 340.5 h-2.5 M365.5 344.5 h2.5 M544.5 344.5 h-2.5 M365.5 347.5 h2.5 M544.5 347.5 h-2.5 M365.5 350.5 h2.5 M544.5 350.5 h-2.5 M365.5 354.5 h2.5 M544.5 354.5 h-2.5 M365.5 357.5 h2.5 M544.5 357.5 h-2.5 M365.5 360.5 h2.5 M544.5 360.5 h-2.5 M365.5 364.5 h4.5 M544.5 364.5 h-4.5 M365.5 367.5 h2.5 M544.5 367.5 h-2.5 M365.5 371.5 h2.5 M544.5 371.5 h-2.5 M365.5 374.5 h2.5 M544.5 374.5 h-2.5 M365.5 377.5 h2.5 M544.5 377.5 h-2.5 M365.5 381.5 h2.5 M544.5 381.5 h-2.5 M365.5 384.5 h2.5 M544.5 384.5 h-2.5 M365.5 387.5 h2.5 M544.5 387.5 h-2.5 M365.5 391.5 h2.5 M544.5 391.5 h-2.5 M365.5 394.5 h2.5 M544.5 394.5 h-2.5 M365.5 397.5 h4.5 M544.5 397.5 h-4.5 M365.5 401.5 h2.5 M544.5 401.5 h-2.5 M365.5 404.5 h2.5 M544.5 404.5 h-2.5 M365.5 407.5 h2.5 M544.5 407.5 h-2.5 M365.5 411.5 h2.5 M544.5 411.5 h-2.5 M365.5 414.5 h2.5 M544.5 414.5 h-2.5 M365.5 418.5 h2.5 M544.5 418.5 h-2.5 M365.5 421.5 h2.5 M544.5 421.5 h-2.5 M365.5 424.5 h2.5 M544.5 424.5 h-2.5 M365.5 428.5 h2.5 M544.5 428.5 h-2.5 M365.5 431.5 h4.5 M544.5 431.5 h-4.5 M410.5 263.5 v3.5 M410.5 431.5 v-3.5 M454.5 263.5 v3.5 M454.5 431.5 v-3.5 M499.5 263.5 v3.5"/>
</g>
<rect x="563" y="263" width="19" height="169" fill="url(#cb)"/>
<g shape-rendering="crispEdges" stroke="#000" stroke-width="1" fill="none">
<rect x="563.5" y="263.5" width="18" height="168"/>
<path d="M581.5 284.5 h-5 M581.5 305.5 h-5 M581.5 326.5 h-5 M581.5 347.5 h-5 M581.5 368.5 h-5 M581.5 389.5 h-5 M581.5 410.5 h-5"/>
</g>
<g id="labels" style="filter:grayscale(1)">
<text class="t" transform="translate(134.50 17.70) scale(1.1 1)" text-anchor="middle" xml:space="preserve">Meridional Winds (warm side)</text>
<text class="a" transform="translate(41.40 31.00) scale(1.17 1)" text-anchor="end" xml:space="preserve">110</text>
<text class="a" transform="translate(41.40 61.30) scale(1.17 1)" text-anchor="end" xml:space="preserve">100</text>
<text class="a" transform="translate(41.40 94.90) scale(1.17 1)" text-anchor="end" xml:space="preserve">90</text>
<text class="a" transform="translate(41.40 128.50) scale(1.17 1)" text-anchor="end" xml:space="preserve">80</text>
<text class="a" transform="translate(41.40 162.10) scale(1.17 1)" text-anchor="end" xml:space="preserve">70</text>
<text class="a" transform="translate(41.40 190.80) scale(1.17 1)" text-anchor="end" xml:space="preserve">60</text>
<text class="a" transform="translate(44.30 207.20) scale(1.17 1)" text-anchor="middle" xml:space="preserve">−90</text>
<text class="a" transform="translate(90.05 207.20) scale(1.17 1)" text-anchor="middle" xml:space="preserve">0</text>
<text class="a" transform="translate(134.80 207.20) scale(1.17 1)" text-anchor="middle" xml:space="preserve">90</text>
<text class="a" transform="translate(179.55 207.20) scale(1.17 1)" text-anchor="middle" xml:space="preserve">0</text>
<text class="a" transform="translate(223.30 207.20) scale(1.17 1)" text-anchor="middle" xml:space="preserve">−90</text>
<text class="a" transform="translate(134.20 219.60) scale(1.17 1)" text-anchor="middle" xml:space="preserve">Lat (deg)</text>
<text class="a" transform="translate(10.80 108.50) rotate(-90) scale(1.17 1)" text-anchor="middle" xml:space="preserve">Altitude (km)</text>
<text class="a" transform="translate(278.90 24.80) scale(1.2 1)" text-anchor="start" xml:space="preserve">200.0</text>
<text class="a" transform="translate(278.30 45.80) scale(1.2 1)" text-anchor="start" xml:space="preserve">150.0</text>
<text class="a" transform="translate(278.30 66.80) scale(1.2 1)" text-anchor="start" xml:space="preserve">100.0</text>
<text class="a" transform="translate(284.60 87.80) scale(1.2 1)" text-anchor="start" xml:space="preserve">50.0</text>
<text class="a" transform="translate(290.30 108.80) scale(1.2 1)" text-anchor="start" xml:space="preserve">0.0</text>
<text class="a" transform="translate(278.90 129.80) scale(1.2 1)" text-anchor="start" xml:space="preserve">−50.0</text>
<text class="a" transform="translate(273.20 150.80) scale(1.2 1)" text-anchor="start" xml:space="preserve">−100.0</text>
<text class="a" transform="translate(273.20 171.80) scale(1.2 1)" text-anchor="start" xml:space="preserve">−150.0</text>
<text class="a" transform="translate(273.20 192.80) scale(1.2 1)" text-anchor="start" xml:space="preserve">−200.0</text>
<text class="t" transform="translate(454.50 17.70) scale(1.1 1)" text-anchor="middle" xml:space="preserve">Zonal Winds (warm side)</text>
<text class="a" transform="translate(361.40 31.00) scale(1.17 1)" text-anchor="end" xml:space="preserve">110</text>
<text class="a" transform="translate(361.40 61.30) scale(1.17 1)" text-anchor="end" xml:space="preserve">100</text>
<text class="a" transform="translate(361.40 94.90) scale(1.17 1)" text-anchor="end" xml:space="preserve">90</text>
<text class="a" transform="translate(361.40 128.50) scale(1.17 1)" text-anchor="end" xml:space="preserve">80</text>
<text class="a" transform="translate(361.40 162.10) scale(1.17 1)" text-anchor="end" xml:space="preserve">70</text>
<text class="a" transform="translate(361.40 190.80) scale(1.17 1)" text-anchor="end" xml:space="preserve">60</text>
<text class="a" transform="translate(364.30 207.20) scale(1.17 1)" text-anchor="middle" xml:space="preserve">−90</text>
<text class="a" transform="translate(410.05 207.20) scale(1.17 1)" text-anchor="middle" xml:space="preserve">0</text>
<text class="a" transform="translate(454.80 207.20) scale(1.17 1)" text-anchor="middle" xml:space="preserve">90</text>
<text class="a" transform="translate(499.55 207.20) scale(1.17 1)" text-anchor="middle" xml:space="preserve">0</text>
<text class="a" transform="translate(543.30 207.20) scale(1.17 1)" text-anchor="middle" xml:space="preserve">−90</text>
<text class="a" transform="translate(454.20 219.60) scale(1.17 1)" text-anchor="middle" xml:space="preserve">Lat (deg)</text>
<text class="a" transform="translate(330.80 108.50) rotate(-90) scale(1.17 1)" text-anchor="middle" xml:space="preserve">Altitude (km)</text>
<text class="a" transform="translate(591.90 24.80) scale(1.2 1)" text-anchor="start" xml:space="preserve">200.0</text>
<text class="a" transform="translate(591.30 45.80) scale(1.2 1)" text-anchor="start" xml:space="preserve">150.0</text>
<text class="a" transform="translate(591.30 66.80) scale(1.2 1)" text-anchor="start" xml:space="preserve">100.0</text>
<text class="a" transform="translate(597.60 87.80) scale(1.2 1)" text-anchor="start" xml:space="preserve">50.0</text>
<text class="a" transform="translate(603.30 108.80) scale(1.2 1)" text-anchor="start" xml:space="preserve">0.0</text>
<text class="a" transform="translate(591.90 129.80) scale(1.2 1)" text-anchor="start" xml:space="preserve">−50.0</text>
<text class="a" transform="translate(586.20 150.80) scale(1.2 1)" text-anchor="start" xml:space="preserve">−100.0</text>
<text class="a" transform="translate(586.20 171.80) scale(1.2 1)" text-anchor="start" xml:space="preserve">−150.0</text>
<text class="a" transform="translate(586.20 192.80) scale(1.2 1)" text-anchor="start" xml:space="preserve">−200.0</text>
<text class="t" transform="translate(134.50 257.70) scale(1.11 1)" text-anchor="middle" xml:space="preserve">Meridional Winds (cold side)</text>
<text class="a" transform="translate(41.40 271.00) scale(1.17 1)" text-anchor="end" xml:space="preserve">110</text>
<text class="a" transform="translate(41.40 301.30) scale(1.17 1)" text-anchor="end" xml:space="preserve">100</text>
<text class="a" transform="translate(41.40 334.90) scale(1.17 1)" text-anchor="end" xml:space="preserve">90</text>
<text class="a" transform="translate(41.40 368.50) scale(1.17 1)" text-anchor="end" xml:space="preserve">80</text>
<text class="a" transform="translate(41.40 402.10) scale(1.17 1)" text-anchor="end" xml:space="preserve">70</text>
<text class="a" transform="translate(41.40 430.80) scale(1.17 1)" text-anchor="end" xml:space="preserve">60</text>
<text class="a" transform="translate(44.30 447.20) scale(1.17 1)" text-anchor="middle" xml:space="preserve">−90</text>
<text class="a" transform="translate(90.05 447.20) scale(1.17 1)" text-anchor="middle" xml:space="preserve">0</text>
<text class="a" transform="translate(134.80 447.20) scale(1.17 1)" text-anchor="middle" xml:space="preserve">90</text>
<text class="a" transform="translate(179.55 447.20) scale(1.17 1)" text-anchor="middle" xml:space="preserve">0</text>
<text class="a" transform="translate(223.30 447.20) scale(1.17 1)" text-anchor="middle" xml:space="preserve">−90</text>
<text class="a" transform="translate(134.20 459.60) scale(1.17 1)" text-anchor="middle" xml:space="preserve">Lat (deg)</text>
<text class="a" transform="translate(10.80 348.50) rotate(-90) scale(1.17 1)" text-anchor="middle" xml:space="preserve">Altitude (km)</text>
<text class="a" transform="translate(278.90 264.80) scale(1.2 1)" text-anchor="start" xml:space="preserve">200.0</text>
<text class="a" transform="translate(278.30 285.80) scale(1.2 1)" text-anchor="start" xml:space="preserve">150.0</text>
<text class="a" transform="translate(278.30 306.80) scale(1.2 1)" text-anchor="start" xml:space="preserve">100.0</text>
<text class="a" transform="translate(284.60 327.80) scale(1.2 1)" text-anchor="start" xml:space="preserve">50.0</text>
<text class="a" transform="translate(290.30 348.80) scale(1.2 1)" text-anchor="start" xml:space="preserve">0.0</text>
<text class="a" transform="translate(278.90 369.80) scale(1.2 1)" text-anchor="start" xml:space="preserve">−50.0</text>
<text class="a" transform="translate(273.20 390.80) scale(1.2 1)" text-anchor="start" xml:space="preserve">−100.0</text>
<text class="a" transform="translate(273.20 411.80) scale(1.2 1)" text-anchor="start" xml:space="preserve">−150.0</text>
<text class="a" transform="translate(273.20 432.80) scale(1.2 1)" text-anchor="start" xml:space="preserve">−200.0</text>
<text class="t" transform="translate(454.50 257.70) scale(1.115 1)" text-anchor="middle" xml:space="preserve">Zonal Winds (cold side)</text>
<text class="a" transform="translate(361.40 271.00) scale(1.17 1)" text-anchor="end" xml:space="preserve">110</text>
<text class="a" transform="translate(361.40 301.30) scale(1.17 1)" text-anchor="end" xml:space="preserve">100</text>
<text class="a" transform="translate(361.40 334.90) scale(1.17 1)" text-anchor="end" xml:space="preserve">90</text>
<text class="a" transform="translate(361.40 368.50) scale(1.17 1)" text-anchor="end" xml:space="preserve">80</text>
<text class="a" transform="translate(361.40 402.10) scale(1.17 1)" text-anchor="end" xml:space="preserve">70</text>
<text class="a" transform="translate(361.40 430.80) scale(1.17 1)" text-anchor="end" xml:space="preserve">60</text>
<text class="a" transform="translate(364.30 447.20) scale(1.17 1)" text-anchor="middle" xml:space="preserve">−90</text>
<text class="a" transform="translate(410.05 447.20) scale(1.17 1)" text-anchor="middle" xml:space="preserve">0</text>
<text class="a" transform="translate(454.80 447.20) scale(1.17 1)" text-anchor="middle" xml:space="preserve">90</text>
<text class="a" transform="translate(499.55 447.20) scale(1.17 1)" text-anchor="middle" xml:space="preserve">0</text>
<text class="a" transform="translate(543.30 447.20) scale(1.17 1)" text-anchor="middle" xml:space="preserve">−90</text>
<text class="a" transform="translate(454.20 459.60) scale(1.17 1)" text-anchor="middle" xml:space="preserve">Lat (deg)</text>
<text class="a" transform="translate(330.80 348.50) rotate(-90) scale(1.17 1)" text-anchor="middle" xml:space="preserve">Altitude (km)</text>
<text class="a" transform="translate(591.90 264.80) scale(1.2 1)" text-anchor="start" xml:space="preserve">200.0</text>
<text class="a" transform="translate(591.30 285.80) scale(1.2 1)" text-anchor="start" xml:space="preserve">150.0</text>
<text class="a" transform="translate(591.30 306.80) scale(1.2 1)" text-anchor="start" xml:space="preserve">100.0</text>
<text class="a" transform="translate(597.60 327.80) scale(1.2 1)" text-anchor="start" xml:space="preserve">50.0</text>
<text class="a" transform="translate(603.30 348.80) scale(1.2 1)" text-anchor="start" xml:space="preserve">0.0</text>
<text class="a" transform="translate(591.90 369.80) scale(1.2 1)" text-anchor="start" xml:space="preserve">−50.0</text>
<text class="a" transform="translate(586.20 390.80) scale(1.2 1)" text-anchor="start" xml:space="preserve">−100.0</text>
<text class="a" transform="translate(586.20 411.80) scale(1.2 1)" text-anchor="start" xml:space="preserve">−150.0</text>
<text class="a" transform="translate(586.20 432.80) scale(1.2 1)" text-anchor="start" xml:space="preserve">−200.0</text>
<text class="a" style="word-spacing:1.8px" transform="translate(288.40 470.00) scale(1.17 1)" text-anchor="start" xml:space="preserve">2004176 bb v03r03  Beta Angle: −47.2043</text>
</g>
</svg>
</body>
</html>
